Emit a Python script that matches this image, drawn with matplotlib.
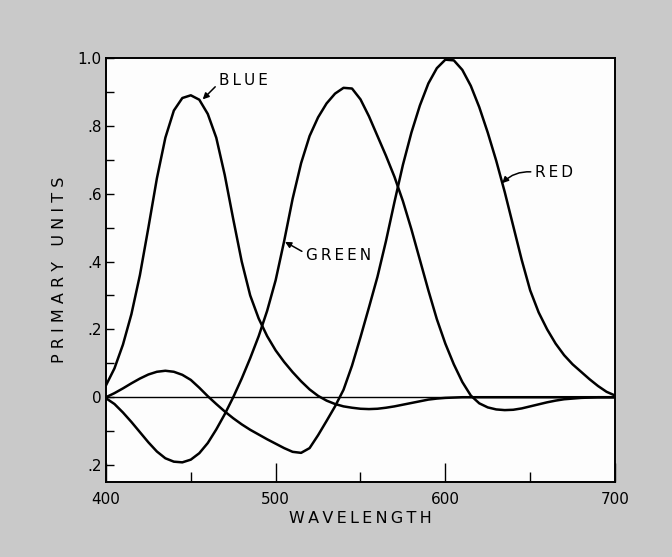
import numpy as np
import matplotlib.pyplot as plt
from matplotlib.ticker import MultipleLocator, FixedLocator

# wavelength grid (nm) and the three primaries
wavelength = list(range(400, 705, 5))

blue = [0.035, 0.085, 0.155, 0.245, 0.36, 0.50, 0.645, 0.765, 0.845, 0.882,
        0.89, 0.877, 0.835, 0.765, 0.655, 0.525, 0.40, 0.30, 0.232, 0.18,
        0.138, 0.104, 0.074, 0.047, 0.023, 0.004, -0.01, -0.02, -0.027, -0.031,
        -0.034, -0.035, -0.034, -0.031, -0.027, -0.022, -0.017, -0.012, -0.007, -0.004,
        -0.002, -0.001, 0.0, 0.0, 0.0, 0.0, 0.0, 0.0, 0.0, 0.0,
        0.0, 0.0, 0.0, 0.0, 0.0, 0.0, 0.0, 0.0, 0.0, 0.0,
        0.0]

green = [-0.003, -0.02, -0.045, -0.073, -0.103, -0.133, -0.16, -0.18, -0.19, -0.192,
         -0.184, -0.165, -0.135, -0.095, -0.05, 0.0, 0.055, 0.115, 0.18, 0.255,
         0.345, 0.46, 0.585, 0.69, 0.77, 0.825, 0.866, 0.895, 0.912, 0.91,
         0.878, 0.828, 0.77, 0.712, 0.65, 0.578, 0.495, 0.405, 0.315, 0.23,
         0.158, 0.097, 0.045, 0.005, -0.018, -0.03, -0.036, -0.038, -0.037, -0.033,
         -0.027, -0.021, -0.015, -0.01, -0.006, -0.004, -0.002, -0.001, 0.0, 0.0,
         0.0]

red = [0.0, 0.012, 0.026, 0.041, 0.055, 0.067, 0.075, 0.078, 0.075, 0.066,
       0.051, 0.028, 0.003, -0.02, -0.042, -0.062, -0.08, -0.096, -0.11, -0.124,
       -0.137, -0.15, -0.161, -0.164, -0.15, -0.112, -0.07, -0.027, 0.022, 0.093,
       0.177, 0.265, 0.355, 0.46, 0.575, 0.685, 0.78, 0.86, 0.925, 0.97,
       0.995, 0.993, 0.965, 0.918, 0.855, 0.78, 0.697, 0.605, 0.505, 0.405,
       0.315, 0.25, 0.2, 0.158, 0.124, 0.097, 0.075, 0.053, 0.033, 0.016,
       0.005]

ytick_vals = [-0.2, 0.0, 0.2, 0.4, 0.6, 0.8, 1.0]
ytick_labels = ['.2', '0', '.2', '.4', '.6', '.8', '1.0']
xtick_vals = [400, 500, 600, 700]

bg = '#c9c9c9'
fig = plt.figure(figsize=(6.72, 5.57), dpi=100, facecolor=bg)
ax = fig.add_axes([0.1577, 0.1346, 0.7575, 0.7613])
ax.set_facecolor('#fdfdfd')

ax.axhline(0, color='black', lw=1.0, zorder=1)
for ys in (blue, green, red):
    ax.plot(wavelength, ys, color='black', lw=1.8, solid_joinstyle='round',
            solid_capstyle='round', zorder=2)

ax.set_xlim(400, 700)
ax.set_ylim(-0.25, 1.0)

ax.xaxis.set_major_locator(FixedLocator(xtick_vals))
ax.xaxis.set_minor_locator(MultipleLocator(50))
ax.yaxis.set_major_locator(FixedLocator(ytick_vals))
ax.yaxis.set_minor_locator(MultipleLocator(0.1))
ax.set_yticklabels(ytick_labels)

ax.tick_params(axis='both', which='both', direction='in', color='black', width=1.0,
               labelsize=11)
ax.tick_params(axis='x', which='major', length=14, pad=7)
ax.tick_params(axis='x', which='minor', length=7)
ax.tick_params(axis='y', which='both', length=6, pad=3)

for s in ax.spines.values():
    s.set_linewidth(1.4)

ts = '\u2009'
ax.set_xlabel(ts.join('WAVELENGTH'), fontsize=11.5, labelpad=3)
ax.set_ylabel('P R I M A R Y   U N I T S', fontsize=11.5, labelpad=8)

arrow = dict(arrowstyle='-|>', color='black', lw=1.1, mutation_scale=9, shrinkA=1, shrinkB=0)
ax.annotate(ts.join('BLUE'), xy=(457, 0.878), xytext=(481, 0.935), ha='center', va='center',
            fontsize=11, arrowprops=dict(arrow, relpos=(0.0, 0.3),
                                         connectionstyle='arc3,rad=0.0'))
ax.annotate(ts.join('GREEN'), xy=(505.5, 0.458), xytext=(537, 0.419), ha='center', va='center',
            fontsize=11, arrowprops=dict(arrow, relpos=(0.0, 0.6),
                                         connectionstyle='arc3,rad=0.0'))
ax.annotate(ts.join('RED'), xy=(633.5, 0.631), xytext=(664, 0.661), ha='center', va='center',
            fontsize=11, arrowprops=dict(arrow, relpos=(0.0, 0.55),
                                         connectionstyle='arc3,rad=0.25'))

fig.savefig('out.png', dpi=100, facecolor=bg)
